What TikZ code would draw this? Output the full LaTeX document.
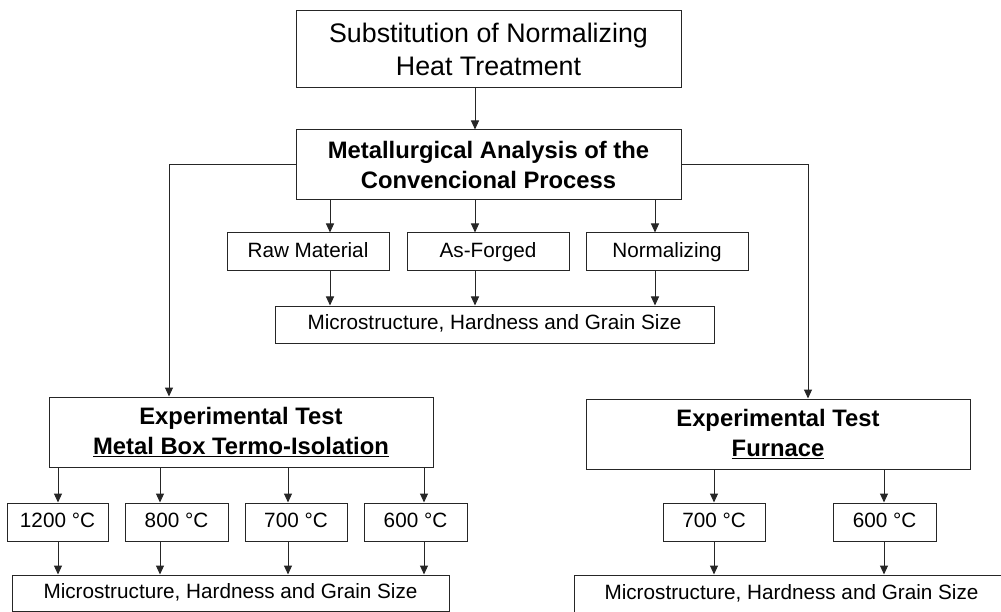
\documentclass[tikz,border=0pt]{standalone}
\usepackage{fontspec}
\setmainfont{Liberation Sans}
\usetikzlibrary{arrows.meta}
\tikzset{
  block/.style    = {draw=black!85, line width=1pt, inner sep=0pt, align=center},
  titlebox/.style = {block, font=\fontsize{26.8}{33}\selectfont},
  boldbox/.style  = {block, minimum width=384pt, minimum height=70pt, font=\fontsize{23.8}{30}\selectfont\bfseries},
  stepbox/.style  = {block, minimum height=38pt, text height=15pt, text depth=4pt, font=\fontsize{20.7}{25}\selectfont},
  link/.style     = {draw=black!85, line width=1pt},
  >={Triangle[length=9pt,width=8pt]}
}

\begin{document}
\begin{tikzpicture}[x=1pt,y=-1pt]
    \clip (0,0) rectangle (1001,612);

    % arrow columns
    \coordinate (cRaw)  at (330,0);
    \coordinate (cMid)  at (475,0);
    \coordinate (cNorm) at (655,0);
    \coordinate (cLeft) at (169,0);
    \coordinate (cRight)at (808,0);
    \coordinate (k1) at (58,0);
    \coordinate (k2) at (160,0);
    \coordinate (k3) at (288,0);
    \coordinate (k4) at (424,0);
    \coordinate (f1) at (714,0);
    \coordinate (f2) at (884,0);

    \node[titlebox, minimum width=385pt, minimum height=77pt] (subst) at (488.5,49.5)
    {Substitution of Normalizing\\Heat Treatment};

    \node[boldbox, minimum width=385pt] (meta) at (488.5,165)
    {Metallurgical Analysis of the\\Convencional Process};

    \node[stepbox, minimum width=162pt] (raw)    at (308,252) {Raw Material};
    \node[stepbox, minimum width=162pt] (forged) at (488,252) {As-Forged};
    \node[stepbox, minimum width=162pt] (norm)   at (667,252) {Normalizing};
    \node[stepbox, minimum width=439pt, minimum height=37pt] (micro) at (494.5,324.5)
    {Microstructure, Hardness and Grain Size};

    \node[boldbox] (expbox) at (241,432)
    {Experimental Test\\\underline{Metal Box Termo-Isolation}};
    \node[stepbox, minimum width=101pt] (t1200) at (57.5,522)  {1200 °C};
    \node[stepbox, minimum width=103pt] (t800)  at (176.5,522) {800 °C};
    \node[stepbox, minimum width=102pt] (t700)  at (296,522)   {700 °C};
    \node[stepbox, minimum width=103pt] (t600)  at (415.5,522) {600 °C};
    \node[stepbox, minimum width=437pt, minimum height=36pt] (microbox) at (230.5,593)
    {Microstructure, Hardness and Grain Size};

    \node[boldbox] (expfurn) at (778,434)
    {Experimental Test\\\underline{Furnace}};
    \node[stepbox, minimum width=102pt] (f700) at (714,522)   {700 °C};
    \node[stepbox, minimum width=103pt] (f600) at (884.5,522) {600 °C};
    \node[stepbox, minimum width=435pt] (microfurn) at (791.5,594)
    {Microstructure, Hardness and Grain Size};

    \draw[link,->] (subst.south -| cMid) -- (meta.north -| cMid);

    \draw[link,->] (meta.south -| cRaw)  -- (raw.north -| cRaw);
    \draw[link,->] (meta.south -| cMid)  -- (forged.north -| cMid);
    \draw[link,->] (meta.south -| cNorm) -- (norm.north -| cNorm);
    \draw[link,->] (raw.south -| cRaw)     -- (micro.north -| cRaw);
    \draw[link,->] (forged.south -| cMid)  -- (micro.north -| cMid);
    \draw[link,->] (norm.south -| cNorm)   -- (micro.north -| cNorm);

    \draw[link,->] (meta.west) -| (cLeft |- expbox.north);
    \draw[link,->] (meta.east) -| (cRight |- expfurn.north);

    \draw[link,->] (expbox.south -| k1) -- (t1200.north -| k1);
    \draw[link,->] (expbox.south -| k2) -- (t800.north -| k2);
    \draw[link,->] (expbox.south -| k3) -- (t700.north -| k3);
    \draw[link,->] (expbox.south -| k4) -- (t600.north -| k4);
    \draw[link,->] (t1200.south -| k1) -- (microbox.north -| k1);
    \draw[link,->] (t800.south -| k2)  -- (microbox.north -| k2);
    \draw[link,->] (t700.south -| k3)  -- (microbox.north -| k3);
    \draw[link,->] (t600.south -| k4)  -- (microbox.north -| k4);

    \draw[link,->] (expfurn.south -| f1) -- (f700.north -| f1);
    \draw[link,->] (expfurn.south -| f2) -- (f600.north -| f2);
    \draw[link,->] (f700.south -| f1) -- (microfurn.north -| f1);
    \draw[link,->] (f600.south -| f2) -- (microfurn.north -| f2);
\end{tikzpicture}
\end{document}
